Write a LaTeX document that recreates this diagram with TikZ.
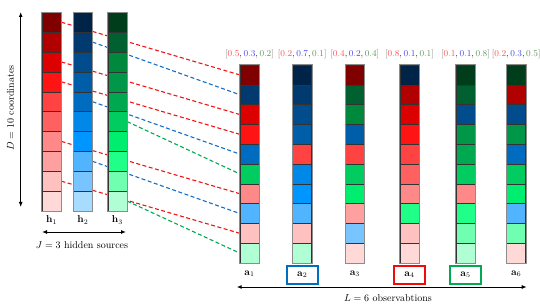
\documentclass[tikz,border=0pt]{standalone}
\usepackage{amsmath,amssymb}
\usepackage{tikz}
\usetikzlibrary{positioning,calc}
\usetikzlibrary{arrows.meta,backgrounds}
% source shades, h1 red, h2 blue, h3 green (top to bottom)
\definecolor{h1r1}{RGB}{128,0,0}
\definecolor{h1r2}{RGB}{176,0,0}
\definecolor{h1r3}{RGB}{220,0,0}
\definecolor{h1r4}{RGB}{255,20,20}
\definecolor{h1r5}{RGB}{255,66,66}
\definecolor{h1r6}{RGB}{255,96,96}
\definecolor{h1r7}{RGB}{255,136,136}
\definecolor{h1r8}{RGB}{255,160,160}
\definecolor{h1r9}{RGB}{255,192,192}
\definecolor{h1r10}{RGB}{255,216,216}
\definecolor{h2r1}{RGB}{0,36,72}
\definecolor{h2r2}{RGB}{0,58,110}
\definecolor{h2r3}{RGB}{0,76,140}
\definecolor{h2r4}{RGB}{0,94,168}
\definecolor{h2r5}{RGB}{0,108,192}
\definecolor{h2r6}{RGB}{0,136,232}
\definecolor{h2r7}{RGB}{0,150,255}
\definecolor{h2r8}{RGB}{80,180,255}
\definecolor{h2r9}{RGB}{120,196,255}
\definecolor{h2r10}{RGB}{168,220,255}
\definecolor{h3r1}{RGB}{0,61,26}
\definecolor{h3r2}{RGB}{0,96,48}
\definecolor{h3r3}{RGB}{0,136,60}
\definecolor{h3r4}{RGB}{0,152,72}
\definecolor{h3r5}{RGB}{0,168,80}
\definecolor{h3r6}{RGB}{0,204,96}
\definecolor{h3r7}{RGB}{0,238,112}
\definecolor{h3r8}{RGB}{32,255,136}
\definecolor{h3r9}{RGB}{112,255,176}
\definecolor{h3r10}{RGB}{176,255,212}
\definecolor{LinkRed}{RGB}{240,20,20}
\definecolor{LinkBlue}{RGB}{20,110,200}
\definecolor{LinkGreen}{RGB}{0,170,80}
\definecolor{WtRed}{RGB}{255,80,80}
\definecolor{WtBlue}{RGB}{70,70,240}
\definecolor{WtGreen}{RGB}{90,150,90}
\definecolor{PickBlue}{RGB}{0,110,190}
\definecolor{PickRed}{RGB}{240,10,10}
\definecolor{PickGreen}{RGB}{0,170,80}
\newcommand{\wts}[3]{{\color{black!50}[}{\color{WtRed}#1},{\color{WtBlue}#2},{\color{WtGreen}#3}{\color{black!50}]}}
\tikzset{
  cell/.style={rectangle,draw=black!80,line width=0.5pt,minimum width=19pt,
    minimum height=19.85pt,inner sep=0pt},
  colframe/.style={draw=black!45,line width=0.9pt},
  link/.style={line width=1.1pt,dash pattern=on 4pt off 2.5pt},
  pick/.style={draw,line width=1.6pt,minimum width=31pt,minimum height=18pt,inner sep=0pt},
  dimarrow/.style={{Latex[length=5pt,width=4pt]}-{Latex[length=5pt,width=4pt]},line width=1pt},
}

\begin{document}
\begin{tikzpicture}[x=1pt,y=-1pt]
\useasboundingbox (0,0) rectangle (540,304);
% hidden sources
\foreach \j/\cx in {1/51.65,2/82.8,3/117.35}
  \foreach \row in {1,...,10}
    \node[cell,fill=h\j r\row] (h\j c\row) at (\cx,{12.3+(\row-0.5)*19.87}) {};
\foreach \j in {1,2,3}
  \draw[colframe] (h\j c1.north west) rectangle (h\j c10.south east);
\node (lh1) at (51.65,220) {$\mathbf{h}_1$};
\node (lh2) at (82.8,220) {$\mathbf{h}_2$};
\node (lh3) at (117.35,220) {$\mathbf{h}_3$};
% observations
\foreach \k/\cx/\pat in {1/249.5/{1,2,1,1,2,3,1,2,1,3},2/302.2/{2,2,2,2,1,2,2,2,1,3},
    3/354.8/{1,3,3,2,1,3,3,1,2,1},4/409.5/{2,1,1,1,1,1,1,3,1,1},
    5/465.5/{3,3,2,3,3,3,1,3,3,3},6/516.2/{3,1,2,3,2,3,3,2,3,1}}
  \foreach \s [count=\row] in \pat
    \node[cell,fill=h\s r\row] (a\k c\row) at (\cx,{65+(\row-0.5)*19.8}) {};
\foreach \k in {1,...,6}
  \draw[colframe] (a\k c1.north west) rectangle (a\k c10.south east);
% links to a1
\begin{scope}[on background layer]
\draw[link,LinkRed] (h1c1.east) -- (a1c1.west);
\draw[link,LinkBlue] (h2c2.east) -- (a1c2.west);
\draw[link,LinkRed] (h1c3.east) -- (a1c3.west);
\draw[link,LinkRed] (h1c4.east) -- (a1c4.west);
\draw[link,LinkBlue] (h2c5.east) -- (a1c5.west);
\draw[link,LinkGreen] (h3c6.east) -- (a1c6.west);
\draw[link,LinkRed] (h1c7.east) -- (a1c7.west);
\draw[link,LinkBlue] (h2c8.east) -- (a1c8.west);
\draw[link,LinkRed] (h1c9.east) -- (a1c9.west);
\draw[link,LinkGreen] (h3c10.east) -- (a1c10.west);
\end{scope}
% weights
\node[font=\small] (w1) at (249.5,54) {$\wts{0.5}{0.3}{0.2}$};
\node[font=\small] (w2) at (302.2,54) {$\wts{0.2}{0.7}{0.1}$};
\node[font=\small] (w3) at (354.8,54) {$\wts{0.4}{0.2}{0.4}$};
\node[font=\small] (w4) at (409.5,54) {$\wts{0.8}{0.1}{0.1}$};
\node[font=\small] (w5) at (465.5,54) {$\wts{0.1}{0.1}{0.8}$};
\node[font=\small] (w6) at (516.2,54) {$\wts{0.2}{0.3}{0.5}$};
% labels
\node (la1) at (249.5,274) {$\mathbf{a}_1$};
\node[pick,draw=PickBlue] (la2) at (302.2,275) {$\mathbf{a}_2$};
\node (la3) at (354.8,274) {$\mathbf{a}_3$};
\node[pick,draw=PickRed] (la4) at (409.5,275) {$\mathbf{a}_4$};
\node[pick,draw=PickGreen] (la5) at (465.5,275) {$\mathbf{a}_5$};
\node (la6) at (516.2,274) {$\mathbf{a}_6$};
% dimensions
\coordinate (dtop) at (20.7,12);
\coordinate (dbot) at (20.7,207);
\draw[dimarrow] (dtop) -- (dbot);
\node[rotate=90] (dlab) at (10.5,108) {$D=10$ coordinates};
\coordinate (jleft) at (42,232);
\coordinate (jright) at (126,232);
\draw[dimarrow] (jleft) -- (jright);
\node (jlab) at (82,245.5) {$J=3$ hidden sources};
\coordinate (lleft) at (236.7,287);
\coordinate (lright) at (526.7,287);
\draw[dimarrow] (lleft) -- (lright);
\node (llab) at (388,298) {$L=6$ observabtions};
\end{tikzpicture}
\end{document}
